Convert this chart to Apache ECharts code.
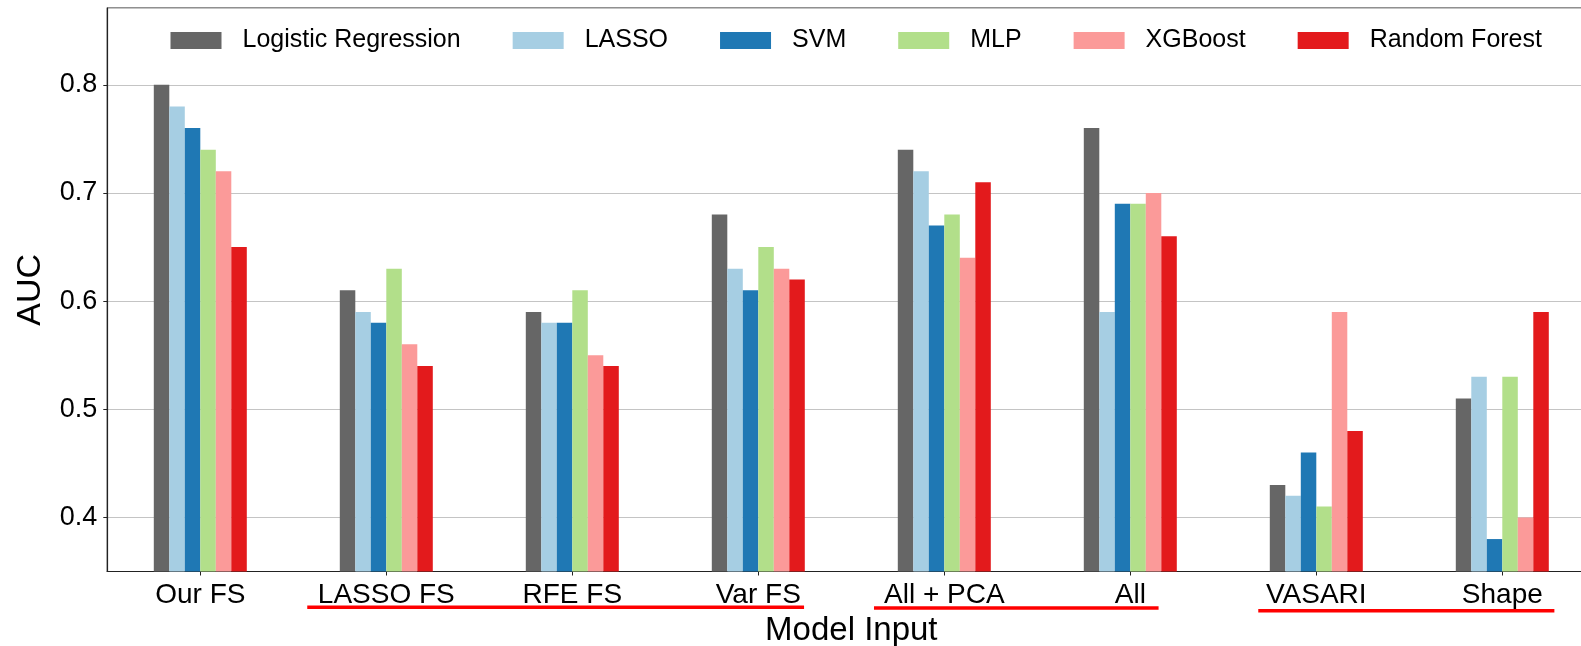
<!DOCTYPE html>
<html>
<head>
<meta charset="utf-8">
<script src="https://cdn.jsdelivr.net/npm/echarts@6/dist/echarts.min.js"></script>
<style>
  html, body { margin: 0; padding: 0; background: #ffffff; }
  #chart { width: 1581px; height: 646px; }
</style>
</head>
<body>
<div id="chart"></div>
<script>
// ---- data ----
const categories = ['Our FS', 'LASSO FS', 'RFE FS', 'Var FS', 'All + PCA', 'All', 'VASARI', 'Shape'];
const seriesNames = ['Logistic Regression', 'LASSO', 'SVM', 'MLP', 'XGBoost', 'Random Forest'];
const logisticRegression = [0.80, 0.61, 0.59, 0.68, 0.74, 0.76, 0.43, 0.51];
const lasso              = [0.78, 0.59, 0.58, 0.63, 0.72, 0.59, 0.42, 0.53];
const svm                = [0.76, 0.58, 0.58, 0.61, 0.67, 0.69, 0.46, 0.38];
const mlp                = [0.74, 0.63, 0.61, 0.65, 0.68, 0.69, 0.41, 0.53];
const xgboost            = [0.72, 0.56, 0.55, 0.63, 0.64, 0.70, 0.59, 0.40];
const randomForest       = [0.65, 0.54, 0.54, 0.62, 0.71, 0.66, 0.48, 0.59];
const yTickValues = [0.4, 0.5, 0.6, 0.7, 0.8];
// underline spans (in category-index units) beneath grouped tick labels
const underlineSpans = [[0.575, 3.246], [3.622, 5.152], [5.688, 7.28]];

const seriesData = [logisticRegression, lasso, svm, mlp, xgboost, randomForest];
const colors = ['#666666', '#a6cee3', '#1f78b4', '#b2df8a', '#fb9a99', '#e31a1c'];
const FONT = '"Liberation Sans", Arial, sans-serif';

const chart = echarts.init(document.getElementById('chart'), null, { renderer: 'canvas' });

const option = {
  backgroundColor: '#ffffff',
  animation: false,
  grid: {
    left: 107.3, right: -14.3, top: 8, bottom: 74.5,
    containLabel: false,
    outerBoundsMode: 'none',
    show: true, borderColor: '#222', borderWidth: 1.2, backgroundColor: 'transparent'
  },
  legend: {
    data: seriesNames,
    left: 170.5, top: 28, padding: 0,
    itemWidth: 51, itemHeight: 17, itemGap: 52,
    icon: 'rect',
    textStyle: { fontFamily: FONT, fontSize: 25, color: '#000', padding: [0, 0, 0, 16] }
  },
  xAxis: {
    type: 'category',
    data: categories,
    boundaryGap: true,
    name: 'Model Input',
    nameLocation: 'middle',
    nameGap: 42,
    nameTextStyle: { fontFamily: FONT, fontSize: 33, color: '#000' },
    axisLine: { show: true, lineStyle: { color: '#222', width: 1.2 } },
    axisTick: { show: true, alignWithLabel: true, length: 4, lineStyle: { color: '#222' } },
    axisLabel: { fontFamily: FONT, fontSize: 28, color: '#000', margin: 10, interval: 0 },
    splitLine: { show: false }
  },
  yAxis: {
    type: 'value',
    min: 0.35, max: 0.871,
    minInterval: 0.1, maxInterval: 0.1,
    name: 'AUC',
    nameLocation: 'middle',
    nameGap: 60,
    nameTextStyle: { fontFamily: FONT, fontSize: 34, color: '#000' },
    axisLine: { show: true, lineStyle: { color: '#222', width: 1.2 } },
    axisTick: { show: true, length: 4, lineStyle: { color: '#222' } },
    axisLabel: {
      fontFamily: FONT, fontSize: 27, color: '#000', margin: 10,
      showMinLabel: false, showMaxLabel: false,
      formatter: function (v) {
        for (const t of yTickValues) { if (Math.abs(v - t) < 1e-6) return t.toFixed(1); }
        return '';
      }
    },
    splitLine: { show: true, lineStyle: { color: '#c4c4c4', width: 1.2 } }
  },
  series: seriesNames.map(function (name, i) {
    return {
      name: name,
      type: 'bar',
      data: seriesData[i],
      barWidth: 15.5,
      barGap: '0%',
      itemStyle: { color: colors[i] },
      z: 3
    };
  })
};

chart.setOption(option);

// underlines beneath label groups, positioned via the category axis scale
function catToPx(u) {
  const i0 = Math.floor(u);
  const a = Math.min(Math.max(i0, 0), categories.length - 2);
  const p0 = chart.convertToPixel({ xAxisIndex: 0 }, categories[a]);
  const p1 = chart.convertToPixel({ xAxisIndex: 0 }, categories[a + 1]);
  return p0 + (p1 - p0) * (u - a);
}
const underlineY = [607.2, 608, 610.8];
chart.setOption({
  graphic: underlineSpans.map(function (s, k) {
    return {
      type: 'line',
      shape: { x1: catToPx(s[0]), y1: underlineY[k], x2: catToPx(s[1]), y2: underlineY[k] },
      style: { stroke: '#ff0000', lineWidth: 3.5 },
      silent: true, z: 10
    };
  })
});
</script>
</body>
</html>
